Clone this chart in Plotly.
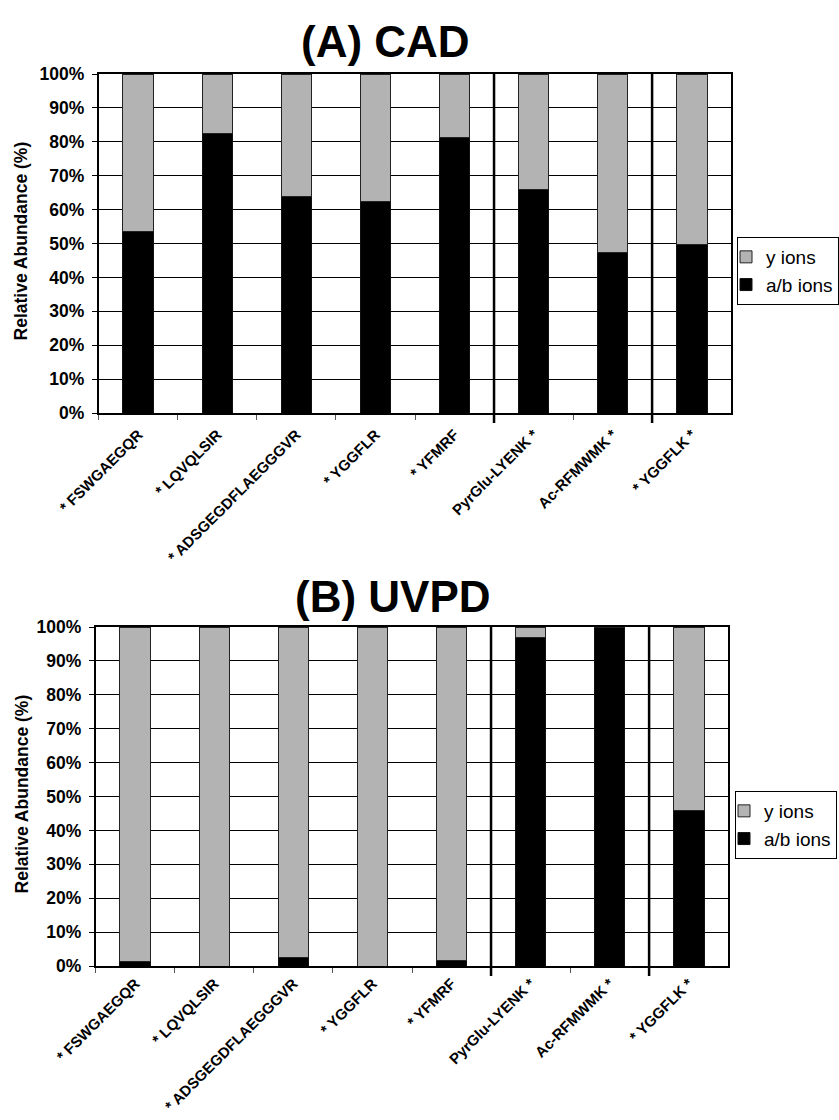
import plotly.graph_objects as go

# Peptides analysed, in display order
peptides = [
    "* FSWGAEGQR",
    "* LQVQLSIR",
    "* ADSGEGDFLAEGGGVR",
    "* YGGFLR",
    "* YFMRF",
    "PyrGlu-LYENK *",
    "Ac-RFMWMK *",
    "* YGGFLK *",
]
# Derivatisation site of each peptide (N-term, C-term, both); a divider is drawn where it changes
label_site = ["N", "N", "N", "N", "N", "C", "C", "NC"]

# Relative abundance (%) of fragment ion types, CAD
cad_ab_ions = [53.5, 82.5, 64.0, 62.5, 81.3, 65.8, 47.4, 49.8]
cad_y_ions = [46.5, 17.5, 36.0, 37.5, 18.7, 34.2, 52.6, 50.2]

# Relative abundance (%) of fragment ion types, UVPD
uvpd_ab_ions = [1.2, 0.0, 2.5, 0.0, 1.6, 96.8, 100.0, 46.0]
uvpd_y_ions = [98.8, 100.0, 97.5, 100.0, 98.4, 3.2, 0.0, 54.0]

panel_titles = ["(A) CAD", "(B) UVPD"]
y_ticks = [0, 10, 20, 30, 40, 50, 60, 70, 80, 90, 100]

W, H = 839, 1120
FONT = "Liberation Sans, Arial, sans-serif"
GRAY = "#b3b3b3"

# Panel placement in pixels: (left, right, top, bottom)
panels = [(99, 732, 74, 413), (96, 729, 627, 966)]
title_pos = [(386, 42), (393, 596)]
legend_pos = [(738, 237), (735, 791)]
label_standoff = [5, 1]


def px_x(v):
    return v / W


def px_y(v):
    return 1 - v / H


fig = go.Figure()

series = [(cad_ab_ions, cad_y_ions), (uvpd_ab_ions, uvpd_y_ions)]
for k, (ab, yi) in enumerate(series):
    xa = "x" if k == 0 else "x2"
    ya = "y" if k == 0 else "y2"
    lg = "legend" if k == 0 else "legend2"
    fig.add_trace(go.Bar(
        x=peptides, y=ab, name="a/b ions", xaxis=xa, yaxis=ya, legend=lg,
        marker=dict(color="black", line=dict(color="#111111", width=1)),
    ))
    fig.add_trace(go.Bar(
        x=peptides, y=yi, name="y ions", xaxis=xa, yaxis=ya, legend=lg,
        marker=dict(color=GRAY, line=dict(color="#222222", width=1)),
    ))

layout = dict(
    width=W, height=H,
    margin=dict(l=0, r=0, t=0, b=0),
    paper_bgcolor="white", plot_bgcolor="white",
    barmode="stack", bargap=0.61,
    template="none",
    font=dict(family=FONT, color="black"),
    showlegend=True,
)

shapes = []
annotations = []
n = len(peptides)
for k, (l, r, t, b) in enumerate(panels):
    sx = "" if k == 0 else "2"
    layout["xaxis" + sx] = dict(
        domain=[px_x(l), px_x(r)], anchor="y" + sx, type="category",
        tickson="boundaries", ticks="outside", ticklen=5, tickcolor="#555555",
        tickwidth=1, tickangle=-45, showgrid=False, showline=True,
        linecolor="black", linewidth=2, mirror=True, automargin=False,
        tickfont=dict(family=FONT, size=15, weight="bold", color="black"),
        range=[-0.5, n - 0.5], ticklabelstandoff=label_standoff[k],
    )
    layout["yaxis" + sx] = dict(
        domain=[px_y(b), px_y(t)], anchor="x" + sx, range=[0, 100],
        tickvals=y_ticks, ticktext=[f"{v}%" for v in y_ticks],
        ticks="outside", ticklen=5, tickcolor="black", tickwidth=1.3,
        showgrid=True, gridcolor="black", gridwidth=1.3, showline=True,
        linecolor="black", linewidth=2, mirror=True, automargin=False,
        zeroline=False, ticklabelstandoff=4,
        tickfont=dict(family=FONT, size=17.5, weight="bold", color="black"),
    )

    # Dividers between derivatisation groups
    for i in range(1, n):
        if label_site[i] != label_site[i - 1]:
            shapes.append(dict(
                type="line", xref="x" + sx + " domain", yref="paper",
                x0=i / n, x1=i / n, y0=px_y(b + 10), y1=px_y(t),
                line=dict(color="black", width=2.5), layer="above",
            ))

    tx, ty = title_pos[k]
    annotations.append(dict(
        text=panel_titles[k], xref="paper", yref="paper",
        x=px_x(tx), y=px_y(ty), xanchor="center", yanchor="middle",
        showarrow=False, font=dict(family=FONT, size=44, weight="bold", color="black"),
    ))
    annotations.append(dict(
        text="Relative Abundance (%)", xref="paper", yref="paper",
        x=px_x(22), y=px_y((t + b) / 2 - 3), xanchor="center", yanchor="middle",
        textangle=-90, showarrow=False,
        font=dict(family=FONT, size=17.5, weight="bold", color="black"),
    ))

    lx, ly = legend_pos[k]
    layout["legend" if k == 0 else "legend2"] = dict(
        x=px_x(lx), y=px_y(ly), xanchor="left", yanchor="top",
        bgcolor="white", bordercolor="black", borderwidth=1,
        traceorder="reversed", indentation=-12,
        font=dict(family=FONT, size=19, color="black"),
    )

layout["shapes"] = shapes
layout["annotations"] = annotations
fig.update_layout(**layout)

fig.write_html("out.html")
